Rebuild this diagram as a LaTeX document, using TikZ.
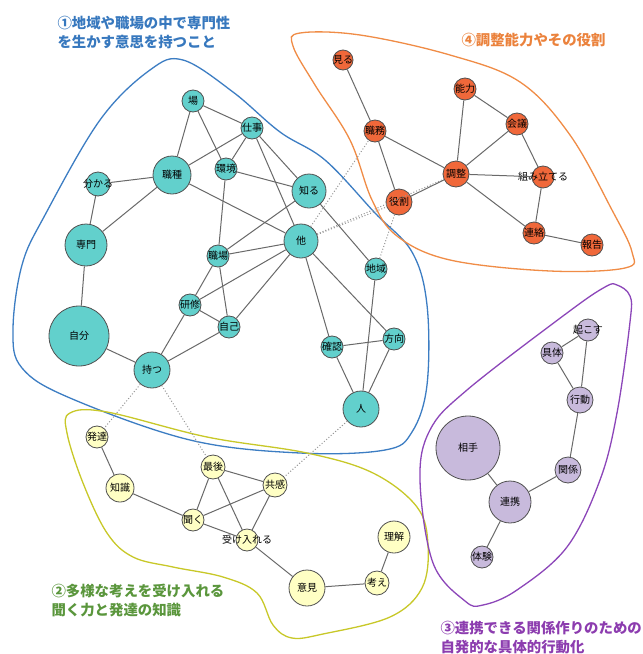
\documentclass[tikz,border=0pt]{standalone}
\usepackage{fontspec}
\newfontfamily\jp{Noto Sans CJK JP}
\definecolor{tealf}{RGB}{98,208,204}
\definecolor{orgf}{RGB}{240,104,58}
\definecolor{yelf}{RGB}{255,255,196}
\definecolor{purf}{RGB}{200,186,220}
\definecolor{nstroke}{RGB}{80,80,80}
\definecolor{edgec}{RGB}{105,105,105}
\definecolor{dotc}{RGB}{150,150,150}
\definecolor{hblue}{RGB}{60,125,195}
\definecolor{horg}{RGB}{240,140,70}
\definecolor{hyel}{RGB}{200,200,40}
\definecolor{hpur}{RGB}{140,70,185}
\definecolor{tblue}{RGB}{55,120,190}
\definecolor{torg}{RGB}{235,130,60}
\definecolor{tgreen}{RGB}{90,150,60}
\definecolor{tpur}{RGB}{140,60,175}
\newcommand{\zlab}[1]{\makebox[0pt]{#1}}
\tikzset{
  gnode/.style={circle, draw=nstroke, line width=0.8pt, inner sep=0pt, font=\jp\fontsize{10}{10}\selectfont},
  bn/.style={gnode, fill=tealf, minimum size=#1},
  on/.style={gnode, fill=orgf, minimum size=#1},
  yn/.style={gnode, fill=yelf, minimum size=#1},
  pn/.style={gnode, fill=purf, minimum size=#1},
  edg/.style={draw=edgec, line width=1pt},
  dedg/.style={draw=dotc, dotted, line width=1pt},
  hull/.style={line width=1.3pt},
  ttl/.style={anchor=west, align=left, font=\jp\bfseries\fontsize{14.4}{19}\selectfont},
}
\begin{document}
\begin{tikzpicture}[x=1pt,y=-1pt]
\useasboundingbox[fill=white] (0,0) rectangle (643,654);
% hulls
\draw[hull, hblue] plot[smooth cycle, tension=0.6] coordinates {(183,60) (233,92) (280,132) (325,160) (375,213) (412,252) (427,305) (427,385) (412,432) (385,450) (300,453) (190,440) (70,398) (22,368) (13,330) (22,265) (45,215) (100,120) (150,70)};
\draw[hull, horg] plot[smooth cycle, tension=0.6] coordinates {(300,33) (360,35) (450,55) (520,82) (570,135) (612,210) (632,252) (625,268) (550,271) (450,260) (397,236) (372,200) (350,140) (315,85) (293,46)};
\draw[hull, hyel] plot[smooth cycle, tension=0.6] coordinates {(70,413) (107,412) (207,437) (307,453) (373,473) (417,507) (428,545) (422,588) (390,617) (323,634) (292,638) (273,625) (257,593) (223,577) (173,567) (133,557) (107,533) (83,483) (67,433)};
\draw[hull, hpur] plot[smooth cycle, tension=0.6] coordinates {(617,285) (630,296) (630,322) (617,413) (600,480) (567,547) (517,590) (483,605) (465,601) (433,563) (420,480) (430,430) (467,390) (567,313) (605,287)};
% titles
\node[ttl, text=tblue] (t1) at (54,33) {①地域や職場の中で専門性\\を生かす意思を持つこと};
\node[ttl, text=torg] (t4) at (458,40) {④調整能力やその役割};
\node[ttl, text=tgreen] (t2) at (48,601) {②多様な考えを受け入れる\\聞く力と発達の知識};
\node[ttl, text=tpur] (t3) at (437,638) {③連携できる関係作りのための\\自発的な具体的行動化};
% blue nodes
\node[bn=22pt] (ba) at (193,101) {\zlab{場}};
\node[bn=22pt] (sg) at (252,128) {\zlab{仕事}};
\node[bn=38pt] (sy) at (172,175) {\zlab{職種}};
\node[bn=22pt] (kk) at (226,169) {\zlab{環境}};
\node[bn=34pt] (sr) at (309,191) {\zlab{知る}};
\node[bn=24pt] (wk) at (98,184) {\zlab{分かる}};
\node[bn=42pt] (sm) at (86,245) {\zlab{専門}};
\node[bn=34pt] (ta) at (301,241) {\zlab{他}};
\node[bn=22pt] (sb) at (218,256) {\zlab{職場}};
\node[bn=22pt] (ci) at (376,269) {\zlab{地域}};
\node[bn=22pt] (ks) at (190,305) {\zlab{研修}};
\node[bn=22pt] (jk) at (229,327) {\zlab{自己}};
\node[bn=60pt] (jb) at (79,336) {\zlab{自分}};
\node[bn=36pt] (mt) at (152,370) {\zlab{持つ}};
\node[bn=22pt] (kn) at (332,347) {\zlab{確認}};
\node[bn=22pt] (hk) at (394,339) {\zlab{方向}};
\node[bn=36pt] (hi) at (361,409) {\zlab{人}};
% orange nodes
\node[on=20pt] (mi) at (343,60) {\zlab{見る}};
\node[on=22pt] (no) at (465,89) {\zlab{能力}};
\node[on=22pt] (kg) at (517,124) {\zlab{会議}};
\node[on=22pt] (sw) at (375,131) {\zlab{職務}};
\node[on=26pt] (ch) at (456,174) {\zlab{調整}};
\node[on=22pt] (ku) at (543,177) {\zlab{組み立てる}};
\node[on=26pt] (yw) at (399,202) {\zlab{役割}};
\node[on=22pt] (rr) at (534,233) {\zlab{連絡}};
\node[on=22pt] (hh) at (592,245) {\zlab{報告}};
% yellow nodes
\node[yn=22pt] (ht) at (97,437) {\zlab{発達}};
\node[yn=24pt] (sa) at (213,467) {\zlab{最後}};
\node[yn=24pt] (kyo) at (275,485) {\zlab{共感}};
\node[yn=28pt] (cs) at (120,488) {\zlab{知識}};
\node[yn=22pt] (kik) at (193,520) {\zlab{聞く}};
\node[yn=22pt] (ui) at (247,540) {\zlab{受け入れる}};
\node[yn=32pt] (ri) at (394,537) {\zlab{理解}};
\node[yn=36pt] (ik) at (307,588) {\zlab{意見}};
\node[yn=24pt] (kgn) at (377,583) {\zlab{考え}};
% purple nodes
\node[pn=22pt] (ok) at (588,330) {\zlab{起こす}};
\node[pn=22pt] (gt) at (552,353) {\zlab{具体}};
\node[pn=26pt] (kd) at (580,400) {\zlab{行動}};
\node[pn=64pt] (ait) at (468,448) {\zlab{相手}};
\node[pn=26pt] (kr) at (568,470) {\zlab{関係}};
\node[pn=42pt] (rk) at (510,502) {\zlab{連携}};
\node[pn=22pt] (tk) at (482,557) {\zlab{体験}};
% blue edges
\draw[edg] (ba) -- (sy);
\draw[edg] (ba) -- (sg);
\draw[edg] (ba) -- (kk);
\draw[edg] (sg) -- (sy);
\draw[edg] (sg) -- (kk);
\draw[edg] (sg) -- (sr);
\draw[edg] (sg) -- (ta);
\draw[edg] (kk) -- (sr);
\draw[edg] (kk) -- (sb);
\draw[edg] (sy) -- (wk);
\draw[edg] (sy) -- (sm);
\draw[edg] (sy) -- (ta);
\draw[edg] (wk) -- (sm);
\draw[edg] (sm) -- (jb);
\draw[edg] (jb) -- (mt);
\draw[edg] (mt) -- (ks);
\draw[edg] (mt) -- (jk);
\draw[edg] (ks) -- (sb);
\draw[edg] (ks) -- (jk);
\draw[edg] (ks) -- (ta);
\draw[edg] (sb) -- (ta);
\draw[edg] (sb) -- (sr);
\draw[edg] (sb) -- (jk);
\draw[edg] (jk) -- (ta);
\draw[edg] (sr) -- (ci);
\draw[edg] (ta) -- (kn);
\draw[edg] (ta) -- (hk);
\draw[edg] (ci) -- (hi);
\draw[edg] (kn) -- (hk);
\draw[edg] (kn) -- (hi);
\draw[edg] (hk) -- (hi);
% orange edges
\draw[edg] (mi) -- (sw);
\draw[edg] (sw) -- (yw);
\draw[edg] (sw) -- (ch);
\draw[edg] (no) -- (ch);
\draw[edg] (no) -- (kg);
\draw[edg] (kg) -- (ch);
\draw[edg] (kg) -- (ku);
\draw[edg] (ch) -- (ku);
\draw[edg] (ch) -- (yw);
\draw[edg] (ch) -- (rr);
\draw[edg] (ku) -- (rr);
\draw[edg] (rr) -- (hh);
% yellow edges
\draw[edg] (ht) -- (cs);
\draw[edg] (cs) -- (kik);
\draw[edg] (kik) -- (sa);
\draw[edg] (kik) -- (kyo);
\draw[edg] (kik) -- (ui);
\draw[edg] (sa) -- (kyo);
\draw[edg] (sa) -- (ui);
\draw[edg] (kyo) -- (ui);
\draw[edg] (ui) -- (ik);
\draw[edg] (ik) -- (kgn);
\draw[edg] (kgn) -- (ri);
% purple edges
\draw[edg] (ok) -- (gt);
\draw[edg] (ok) -- (kd);
\draw[edg] (gt) -- (kd);
\draw[edg] (kd) -- (kr);
\draw[edg] (kr) -- (rk);
\draw[edg] (rk) -- (ait);
\draw[edg] (rk) -- (tk);
% dotted cross links
\draw[dedg] (ta) -- (sw);
\draw[dedg] (ta) -- (yw);
\draw[dedg] (ta) -- (ch);
\draw[dedg] (ci) -- (yw);
\draw[dedg] (mt) -- (ht);
\draw[dedg] (mt) -- (sa);
\draw[dedg] (hi) -- (kyo);
\end{tikzpicture}
\end{document}
